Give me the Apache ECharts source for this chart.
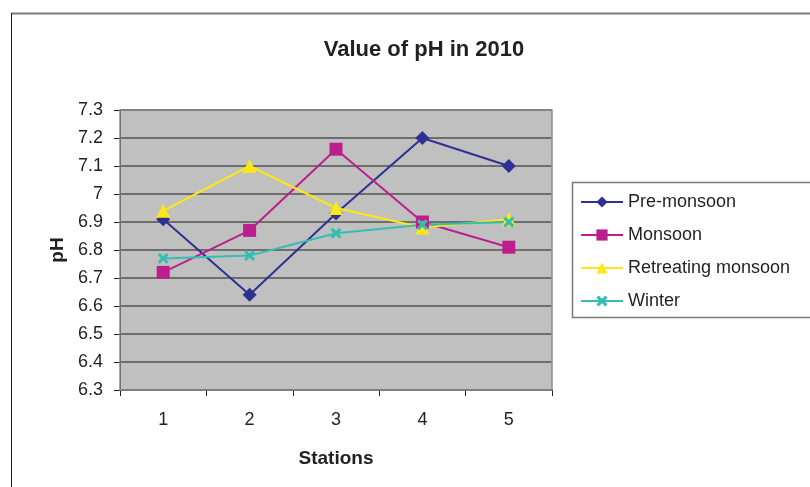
<!DOCTYPE html>
<html>
<head>
<meta charset="utf-8">
<script src="https://cdn.jsdelivr.net/npm/echarts@6/dist/echarts.min.js"></script>
<style>
html,body{margin:0;padding:0;background:#fff;}
#chart{width:810px;height:487px;}
</style>
</head>
<body>
<div id="chart"></div>
<script>
const categories = ['1', '2', '3', '4', '5'];
const preMonsoon = [6.91, 6.64, 6.93, 7.20, 7.10];
const monsoon = [6.72, 6.87, 7.16, 6.90, 6.81];
const retreatingMonsoon = [6.94, 7.10, 6.95, 6.88, 6.91];
const winter = [6.77, 6.78, 6.86, 6.89, 6.90];
const seriesNames = ['Pre-monsoon', 'Monsoon', 'Retreating monsoon', 'Winter'];

const xSymbol = 'path://M2,0 L5,3 L8,0 L10,2 L7,5 L10,8 L8,10 L5,7 L2,10 L0,8 L3,5 L0,2 Z';
const FONT = 'Liberation Sans, Arial, sans-serif';

const chart = echarts.init(document.getElementById('chart'), null, {renderer: 'canvas'});

function mk(name, data, color, symbol, size) {
  return {
    name: name,
    type: 'line',
    data: data,
    symbol: symbol,
    symbolSize: size,
    showSymbol: true,
    lineStyle: {color: color, width: 2},
    itemStyle: {color: color},
    emphasis: {disabled: true},
    animation: false,
    z: 3
  };
}

chart.setOption({
  animation: false,
  backgroundColor: '#ffffff',
  title: {
    text: 'Value of pH in 2010',
    left: 419,
    top: 34,
    textAlign: 'center',
    textStyle: {fontFamily: FONT, fontSize: 22, fontWeight: 'bold', color: '#231f20'}
  },
  graphic: [
    {type: 'line', shape: {x1: 11, y1: 13.5, x2: 810, y2: 13.5}, style: {stroke: '#7a7a7a', lineWidth: 2}},
    {type: 'line', shape: {x1: 11.5, y1: 13, x2: 11.5, y2: 487}, style: {stroke: '#231f20', lineWidth: 1}},
    {type: 'rect', shape: {x: 572.5, y: 182.5, width: 260, height: 135}, style: {fill: '#ffffff', stroke: '#7a7a7a', lineWidth: 1.5}, z: 1},
    {type: 'rect', shape: {x: 120, y: 110, width: 432, height: 280}, style: {fill: 'none', stroke: '#8c8c8c', lineWidth: 1.5}, z: 2}
  ],
  legend: {
    orient: 'vertical',
    left: 580,
    top: 192,
    itemWidth: 42,
    itemHeight: 14,
    itemGap: 13,
    itemTextGap: 5,
    padding: 0,
    data: seriesNames,
    textStyle: {fontFamily: FONT, fontSize: 18, color: '#231f20', lineHeight: 20},
    z: 5
  },
  grid: {
    left: 120, right: 258, top: 110, bottom: 97,
    show: true,
    backgroundColor: '#c0c0c0',
    borderWidth: 0
  },
  xAxis: {
    type: 'category',
    data: categories,
    boundaryGap: true,
    name: 'Stations',
    nameLocation: 'middle',
    nameGap: 59,
    nameTextStyle: {fontFamily: FONT, fontSize: 19, fontWeight: 'bold', color: '#231f20'},
    axisLine: {show: true, lineStyle: {color: '#555555', width: 2}},
    axisTick: {show: true, alignWithLabel: false, length: 6, inside: false, lineStyle: {color: '#231f20', width: 1}},
    axisLabel: {fontFamily: FONT, fontSize: 18, color: '#231f20', margin: 21},
    splitLine: {show: false}
  },
  yAxis: {
    type: 'value',
    min: 6.3,
    max: 7.3,
    interval: 0.1,
    name: 'pH',
    nameLocation: 'middle',
    nameGap: 52,
    nameRotate: 90,
    nameTextStyle: {fontFamily: FONT, fontSize: 19, fontWeight: 'bold', color: '#231f20'},
    axisLine: {show: true, lineStyle: {color: '#231f20', width: 1}},
    axisTick: {show: true, length: 6, lineStyle: {color: '#231f20', width: 1}},
    axisLabel: {
      fontFamily: FONT, fontSize: 18, color: '#231f20', margin: 17,
      formatter: function (v) { return String(+v.toFixed(1)); }
    },
    splitLine: {show: true, lineStyle: {color: '#6e6e6e', width: 2}}
  },
  series: [
    mk(seriesNames[0], preMonsoon, '#2e3192', 'diamond', 14),
    mk(seriesNames[1], monsoon, '#bc1f8d', 'rect', 13),
    mk(seriesNames[2], retreatingMonsoon, '#fbe816', 'triangle', 14),
    mk(seriesNames[3], winter, '#35bdb3', xSymbol, 11)
  ]
});
</script>
</body>
</html>
